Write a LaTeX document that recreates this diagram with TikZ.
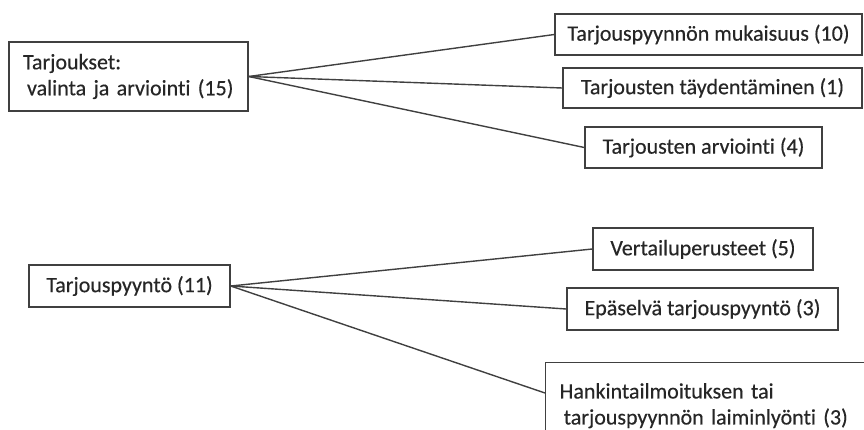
\documentclass[tikz,border=0pt]{standalone}
\usepackage{fontspec}
\setmainfont{Carlito}[Ligatures={NoCommon}, FakeBold=0.4]
\usepackage{tikz}
\usetikzlibrary{positioning,calc}

\definecolor{linegray}{HTML}{404040}
\definecolor{textgray}{HTML}{262626}

\begin{document}
\begin{tikzpicture}[
    x=1pt, y=-1pt,
    box/.style={draw=linegray, line width=1.4pt, text=textgray, inner sep=0pt, font=\fontsize{22}{26}\selectfont},
    multi/.style={box, align=left, inner xsep=14pt},
    link/.style={draw=linegray, line width=1.4pt}
]
\useasboundingbox (0,0) rectangle (864,429);
\clip (0,0) rectangle (864,429);

% Group 1: offers
\node[multi, text width=211pt, minimum height=69pt] (A) at (128.5,76.5) {Tarjoukset:\\\hspace*{4pt}valinta ja arviointi (15)};
\node[box, minimum width=307pt, minimum height=41pt] (B1) at (708.5,34.5) {Tarjouspyynnön mukaisuus (10)};
\node[box, minimum width=299pt, minimum height=40pt] (B2) at (712.5,88) {Tarjousten täydentäminen (1)};
\node[box, minimum width=237pt, minimum height=41pt] (B3) at (703.5,147.5) {Tarjousten arviointi (4)};

% Group 2: call for tenders
\node[box, minimum width=201pt, minimum height=42pt] (C) at (129.5,286) {Tarjouspyyntö (11)};
\node[box, minimum width=220pt, minimum height=42pt] (D1) at (703,249) {Vertailuperusteet (5)};
\node[box, minimum width=271pt, minimum height=42pt] (D2) at (702.5,309) {Epäselvä tarjouspyyntö (3)};
\node[multi, text width=302pt, minimum height=86pt, anchor=north west] (D3) at (545,362) {Hankintailmoituksen tai\\\hspace*{4pt}tarjouspyynnön laiminlyönti (3)};
\coordinate (D3in) at ($(D3.north west)+(0,31)$);

% Links
\foreach \t in {B1,B2,B3} \draw[link] (A.east) -- (\t.west);
\foreach \t in {D1,D2} \draw[link] (C.east) -- (\t.west);
\draw[link] (C.east) -- (D3in);

\end{tikzpicture}
\end{document}
